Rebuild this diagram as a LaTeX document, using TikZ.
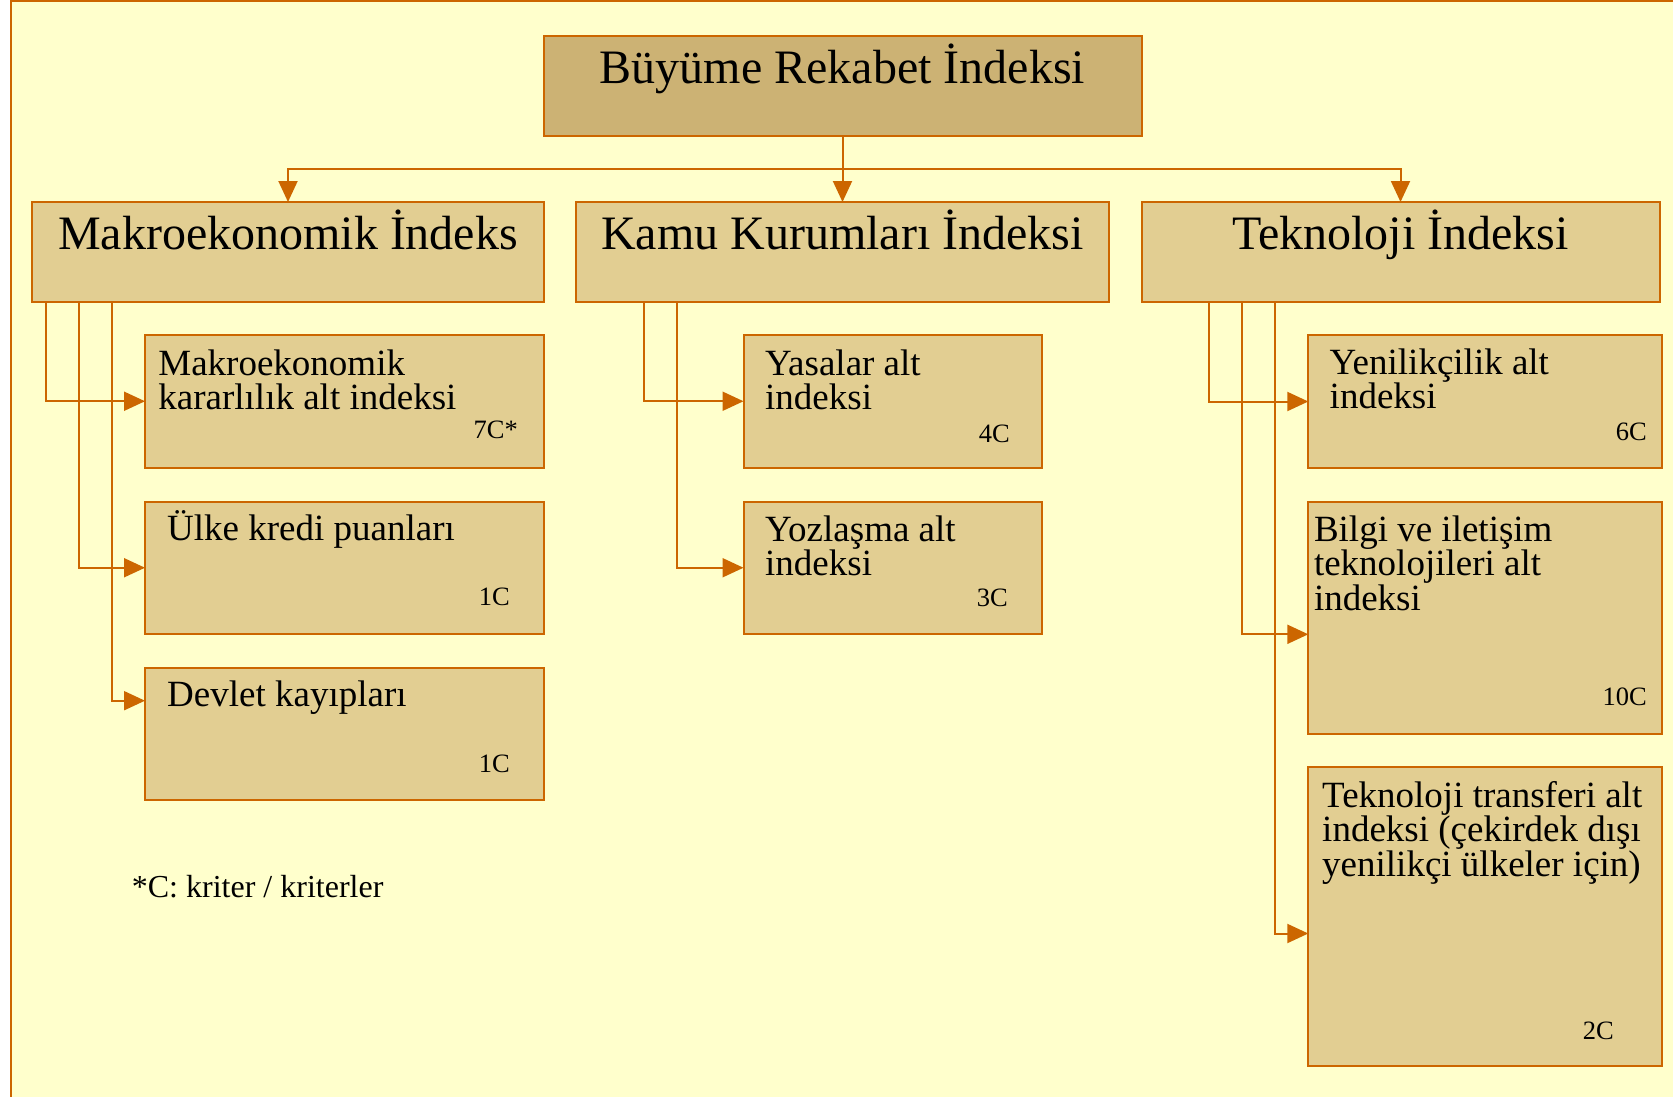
\documentclass[tikz,border=0pt]{standalone}
\usepackage{fontspec}
\setmainfont{Liberation Serif}
\usetikzlibrary{arrows.meta}
\definecolor{bgy}{HTML}{FFFFCC}
\definecolor{boxf}{HTML}{E2CE92}
\definecolor{topf}{HTML}{CCB274}
\definecolor{lor}{HTML}{CC6600}
\begin{document}
\begin{tikzpicture}[x=1pt,y=-1pt,
  box/.style={draw=lor, line width=2pt, fill=boxf, rectangle, inner sep=0pt, outer sep=0pt, anchor=north west},
  conn/.style={draw=lor, line width=2pt, -{Triangle[length=21pt,width=19pt]}},
  ttl/.style={inner sep=0pt, anchor=base, font=\fontsize{48}{52}\selectfont},
  sub/.style={inner sep=0pt, anchor=base west, align=left, font=\fontsize{37}{34.5}\selectfont},
  cnt/.style={inner sep=0pt, anchor=base east, font=\fontsize{26.5}{28}\selectfont},
  note/.style={inner sep=0pt, anchor=base west, font=\fontsize{32}{34}\selectfont}]
\useasboundingbox (0,0) rectangle (1673,1097);
\fill[white] (0,0) rectangle (1673,1097);
\fill[bgy] (11,1.5) rectangle (1673,1097);
\draw[lor, line width=2pt] (11,1110) -- (11,1.5) -- (1690,1.5);

% boxes
\node[box, fill=topf, minimum width=598pt, minimum height=100pt] (T) at (543.5,36) {};
\node[box, minimum width=512pt, minimum height=100pt] (M) at (32,202) {};
\node[box, minimum width=533pt, minimum height=100pt] (K) at (576,202) {};
\node[box, minimum width=518pt, minimum height=100pt] (Tk) at (1141.5,202) {};
\node[box, minimum width=399pt, minimum height=132.5pt] (m1) at (145,335) {};
\node[box, minimum width=399pt, minimum height=132.5pt] (m2) at (145,501.5) {};
\node[box, minimum width=399pt, minimum height=132pt] (m3) at (145,668) {};
\node[box, minimum width=298.5pt, minimum height=132.5pt] (k1) at (743.5,335) {};
\node[box, minimum width=298.5pt, minimum height=132.5pt] (k2) at (743.5,501.5) {};
\node[box, minimum width=353.2pt, minimum height=132.4pt] (t1) at (1308.3,335.3) {};
\node[box, minimum width=353.2pt, minimum height=232.5pt] (t2) at (1308.3,501.5) {};
\node[box, minimum width=353.2pt, minimum height=299pt] (t3) at (1308.3,767) {};

% titles
\node[ttl] (Tl) at (842.5,83.3) {Büyüme Rekabet İndeksi};
\node[ttl] (Ml) at (288,249.3) {Makroekonomik İndeks};
\node[ttl] (Kl) at (842.5,249.3) {Kamu Kurumları İndeksi};
\node[ttl] (Tkl) at (1400.5,249.3) {Teknoloji İndeksi};

% sub texts (anchor at baseline of last line)
\node[sub] (m1l) at (158.2,409.5) {Makroekonomik\\kararlılık alt indeksi};
\node[cnt] (m1c) at (518,438) {7C*};
\node[sub] (m2l) at (167,540) {Ülke kredi puanları};
\node[cnt] (m2c) at (510,605) {1C};
\node[sub] (m3l) at (167,706.7) {Devlet kayıpları};
\node[cnt] (m3c) at (510,772.7) {1C};
\node[sub] (k1l) at (765,409.5) {Yasalar alt\\indeksi};
\node[cnt] (k1c) at (1010,442.7) {4C};
\node[sub] (k2l) at (765,575.5) {Yozlaşma alt\\indeksi};
\node[cnt] (k2c) at (1008,606.7) {3C};
\node[sub] (t1l) at (1329.5,408.5) {Yenilikçilik alt\\indeksi};
\node[cnt] (t1c) at (1647,440.7) {6C};
\node[sub] (t2l) at (1313.8,610) {Bilgi ve iletişim\\teknolojileri alt\\indeksi};
\node[cnt] (t2c) at (1647,705) {10C};
\node[sub] (t3l) at (1322,876) {Teknoloji transferi alt\\indeksi (çekirdek dışı\\yenilikçi ülkeler için)};
\node[cnt] (t3c) at (1614,1039) {2C};
\node[note] (fn) at (131.7,897.7) {*C: kriter / kriterler};

% connectors
\coordinate (hub) at (842.5,169);
\draw[conn] (T.south) -- (K.north);
\draw[conn] (hub) -| (M.north);
\draw[conn] (hub) -| (Tk.north);
\draw[conn] ([xshift=13.5pt]M.south west) |- (m1.west);
\draw[conn] ([xshift=46.5pt]M.south west) |- (m2.west);
\draw[conn] ([xshift=79.5pt]M.south west) |- ([yshift=-32.7pt]m3.north west);
\draw[conn] ([xshift=67.5pt]K.south west) |- (k1.west);
\draw[conn] ([xshift=100.7pt]K.south west) |- (k2.west);
\draw[conn] ([xshift=67pt]Tk.south west) |- (t1.west);
\draw[conn] ([xshift=100pt]Tk.south west) |- ([yshift=-132.8pt]t2.north west);
\draw[conn] ([xshift=133.2pt]Tk.south west) |- ([yshift=-166.5pt]t3.north west);
\end{tikzpicture}
\end{document}
